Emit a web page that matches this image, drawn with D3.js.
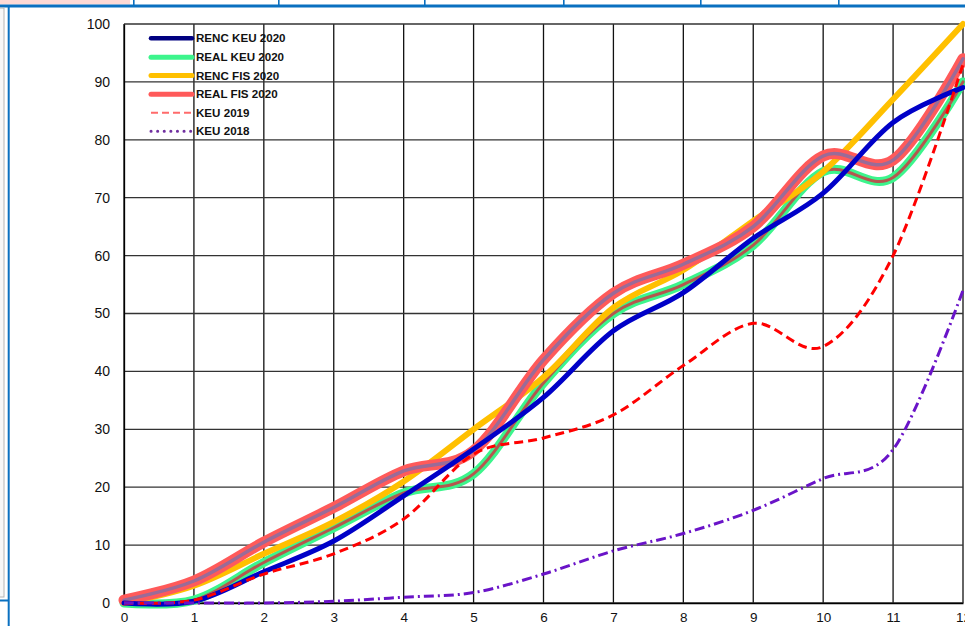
<!DOCTYPE html>
<html><head><meta charset="utf-8">
<script src="https://cdn.jsdelivr.net/npm/d3@7/dist/d3.min.js"></script>
<style>html,body{margin:0;padding:0;background:#fff;overflow:hidden}</style>
</head><body>
<svg id="c" width="965" height="626"></svg>
<script>
const months = [0,1,2,3,4,5,6,7,8,9,10,11,12];
const xTicks = [0,1,2,3,4,5,6,7,8,9,10,11,12];
const yTicks = [0,10,20,30,40,50,60,70,80,90,100];
const rencKeu2020 = [0,0.3,5.4,10.7,18.5,26.6,35.5,47,53.6,63,70.8,83,89];
const realKeu2020 = [0,0.5,7,13,19,22.3,38,50,55,61.8,74.5,73.5,90];
const rencFis2020 = [0,3,8.5,14,21,30,39,51,57.5,66,74.5,87,100];
const realFis2020 = [0.5,3.8,10.5,16.5,22.8,26.3,42,53.5,58.5,65,77.2,76.5,94];
const keu2019 = [0,0.5,5,8.5,14.5,25.7,28.5,32.5,41,48.3,44.3,60,93];
const keu2018 = [0,0,0,0.3,1,1.8,5,9,12,16,21.5,26.5,54];
const legendNames = ["RENC KEU 2020","REAL KEU 2020","RENC FIS 2020","REAL FIS 2020","KEU 2019","KEU 2018"];

const svg = d3.select("#c");
svg.append("rect").attr("width",965).attr("height",626).attr("fill","#fff");

// window decorations of the screenshot
svg.append("rect").attr("x",0).attr("y",0).attr("width",130).attr("height",4.5).attr("fill","#fdd9d5");
svg.append("rect").attr("x",0).attr("y",4.5).attr("width",965).attr("height",3).attr("fill","#0a70c0");
[133,278,424,563,700,838].forEach(x=>svg.append("rect").attr("x",x).attr("y",0).attr("width",1.6).attr("height",5).attr("fill","#0a70c0"));
svg.append("rect").attr("x",-1).attr("y",8).attr("width",5).attr("height",589).attr("fill","#f7f7f7").attr("stroke","#b4b4b4").attr("stroke-width",1);
svg.append("rect").attr("x",7.7).attr("y",7).attr("width",2).attr("height",619).attr("fill","#0a70c0");
svg.append("rect").attr("x",0).attr("y",599.5).attr("width",9).attr("height",2).attr("fill","#0a70c0");

const x = d3.scaleLinear().domain([0,12]).range([124,963]);
const y = d3.scaleLinear().domain([0,100]).range([603,24]);

// grid
const g = svg.append("g");
g.selectAll(".vg").data(xTicks).join("line")
 .attr("x1",d=>x(d)).attr("x2",d=>x(d)).attr("y1",y(100)).attr("y2",y(0))
 .attr("stroke","#111").attr("stroke-width",1.3);
g.selectAll(".hg").data(yTicks).join("line")
 .attr("x1",x(0)).attr("x2",x(12)).attr("y1",d=>y(d)).attr("y2",d=>y(d))
 .attr("stroke","#333").attr("stroke-width",1.3);

// axes labels
const xAxis = d3.axisBottom(x).tickValues(xTicks).tickSize(0).tickPadding(9).tickFormat(d3.format("d"));
const ax = svg.append("g").attr("transform",`translate(0,${y(0)})`).call(xAxis);
ax.select(".domain").attr("stroke","#000").attr("stroke-width",1.3);
ax.selectAll("text").attr("font-family","Liberation Sans, Arial, sans-serif").attr("font-size",13.5).attr("fill","#111");
const yAxis = d3.axisLeft(y).tickValues(yTicks).tickSize(0).tickPadding(14).tickFormat(d3.format("d"));
const ay = svg.append("g").attr("transform",`translate(${x(0)},0)`).call(yAxis);
ay.select(".domain").attr("stroke","#000").attr("stroke-width",1.3);
ay.selectAll("text").attr("font-family","Liberation Sans, Arial, sans-serif").attr("font-size",14).attr("fill","#111");

const line = d3.line().x((d,i)=>x(months[i])).y(d=>y(d)).curve(d3.curveCardinal.tension(0));
const plot = svg.append("g").attr("fill","none").attr("stroke-linecap","round").attr("stroke-linejoin","round");
function draw(data,color,w,dash,cap){
  plot.append("path").datum(data).attr("d",line).attr("stroke",color).attr("stroke-width",w)
    .attr("stroke-dasharray",dash||null).attr("stroke-linecap",cap||"round");
}
draw(realKeu2020,"#3cf58c",9);
draw(realKeu2020,"#b4574f",3);
draw(rencFis2020,"#ffc000",6);
draw(realFis2020,"#ff5a5a",11);
draw(realFis2020,"#9a6b98",3.5);
draw(rencKeu2020,"#0000c8",5);
draw(keu2019,"#ff0000",3,"9,5","butt");
draw(keu2018,"#6a14c8",3,"10,4,2,4","butt");

// legend
const leg = svg.append("g");
const legStyles = [
 {c:"#000080",w:4.5},{c:"#3cf58c",w:5},{c:"#ffc000",w:5},{c:"#ff5a5a",w:5},
 {c:"#ff6b6b",w:2,dash:"7,4",cap:"butt"},{c:"#7030a0",w:3,dash:"0.1,6.5",cap:"round"}];
const legY = [38.3,57.3,75.6,94.2,112.7,131.3];
legendNames.forEach((n,i)=>{
  const s = legStyles[i];
  leg.append("line").attr("x1",151).attr("x2",192).attr("y1",legY[i]).attr("y2",legY[i])
   .attr("stroke",s.c).attr("stroke-width",s.w).attr("stroke-linecap",s.cap||"round")
   .attr("stroke-dasharray",s.dash||null);
  leg.append("text").attr("x",196).attr("y",legY[i]).attr("dy","0.36em")
   .attr("font-family","Liberation Sans, Arial, sans-serif").attr("font-weight","bold")
   .attr("font-size",11.6).attr("fill","#111").text(n);
});
</script>
</body></html>
